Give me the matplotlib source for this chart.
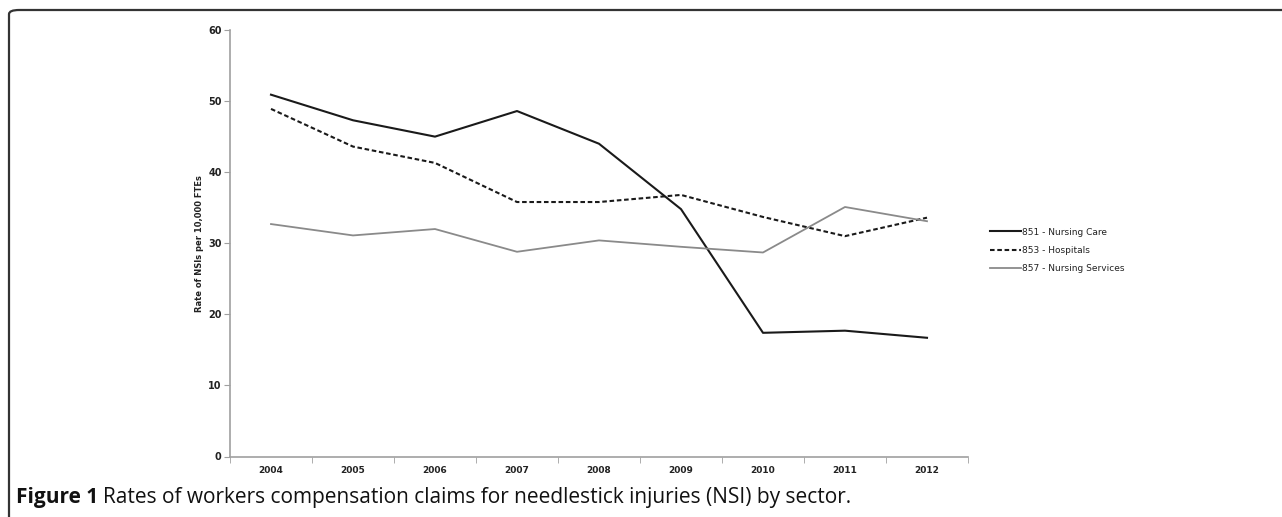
import matplotlib
matplotlib.use("Agg")
import matplotlib.pyplot as plt
from matplotlib.patches import FancyBboxPatch
import numpy as np

years = ["2004", "2005", "2006", "2007", "2008", "2009", "2010", "2011", "2012"]
nursing_care = [50.9, 47.3, 45.0, 48.6, 44.0, 34.8, 17.4, 17.7, 16.7]
hospitals = [48.9, 43.6, 41.3, 35.8, 35.8, 36.8, 33.7, 31.0, 33.6]
nursing_services = [32.7, 31.1, 32.0, 28.8, 30.4, 29.5, 28.7, 35.1, 33.1]
labels = ["851 - Nursing Care", "853 - Hospitals", "857 - Nursing Services"]

W, H = 1282, 517
fig = plt.figure(figsize=(W / 100, H / 100), dpi=100)

# axes placed in pixel terms of the reference
ax = fig.add_axes([230 / W, 1 - 456.5 / H, 738 / W, 426.5 / H])
x = np.arange(len(years))
ax.plot(x, nursing_care, color="#1a1a1a", lw=1.5, label=labels[0])
ax.plot(x, hospitals, color="#1a1a1a", lw=1.5, ls=(0, (2.2, 1.3)), label=labels[1])
ax.plot(x, nursing_services, color="#8a8a8a", lw=1.3, label=labels[2])

ax.set_xlim(-0.5, len(years) - 0.5)
ax.set_ylim(0, 60)
ax.set_yticks(range(0, 61, 10))
ax.set_xticks(x)
ax.set_xticklabels(years)
ax.set_xticks(np.arange(-0.5, len(years), 1), minor=True)
ax.tick_params(axis="x", which="major", length=0, pad=7, labelsize=6.5)
ax.tick_params(axis="x", which="minor", length=4, color="#a0a0a0", direction="out")
ax.tick_params(axis="y", length=4, color="#a0a0a0", labelsize=7, pad=2)
for lab in ax.get_xticklabels() + ax.get_yticklabels():
    lab.set_fontweight("bold")
    lab.set_color("#222222")
for s in ["top", "right"]:
    ax.spines[s].set_visible(False)
for s in ["left", "bottom"]:
    ax.spines[s].set_color("#a0a0a0")
    ax.spines[s].set_linewidth(1.2)
ax.set_ylabel("Rate of NSIs per 10,000 FTEs", fontsize=6, fontweight="bold",
              color="#222222", labelpad=3)

leg = ax.legend(loc="center left", bbox_to_anchor=(982 / W, 1 - 250.5 / H),
                bbox_transform=fig.transFigure, frameon=False, fontsize=6.5,
                handlelength=3.4, handletextpad=0.1, labelspacing=1.05)
for t in leg.get_texts():
    t.set_color("#222222")

# rounded frame, only top and left visible
frame = FancyBboxPatch((9 / W, -0.2), 1.2, 1.2 - 10 / H,
                       boxstyle="round,pad=0,rounding_size=0.008",
                       transform=fig.transFigure, fill=False,
                       edgecolor="#333333", lw=1.6, clip_on=False)
fig.patches.append(frame)

# caption
t1 = fig.text(16 / W, 1 - 497 / H, "Figure 1", fontsize=15, fontweight="bold",
              va="center", ha="left", family="Open Sans", color="#111111")
fig.canvas.draw()
bb = t1.get_window_extent()
fig.text((bb.x1 + 5) / W, 1 - 497 / H,
         "Rates of workers compensation claims for needlestick injuries (NSI) by sector.",
         fontsize=15, va="center", ha="left", family="Open Sans", color="#111111")

fig.savefig("out.png", dpi=100)
